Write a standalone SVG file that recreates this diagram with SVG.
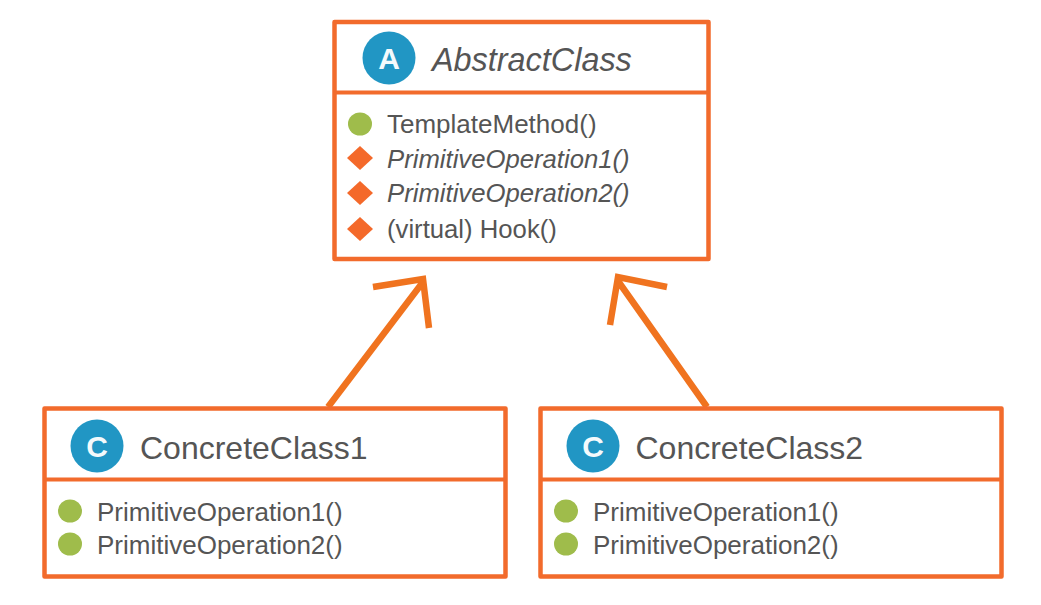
<svg xmlns="http://www.w3.org/2000/svg" width="1041" height="605" viewBox="0 0 1041 605">
<defs><style>
.box{fill:#fff;stroke:#f26b2c;stroke-width:4.5;stroke-linejoin:round}
.div{stroke:#f26b2c;stroke-width:4;fill:none}
.conn{stroke:#f0731f;stroke-width:6.500;fill:none;stroke-linejoin:miter}
.badge{fill:#2196c4}
.bl{font:bold 30px "Liberation Sans",Arial,sans-serif;fill:#f4fafc;text-anchor:middle}
.title{font:32px "Liberation Sans",Arial,sans-serif;fill:#555}
.item{font:26px "Liberation Sans",Arial,sans-serif;fill:#555}
.i{font-style:italic;font-size:25.7px}
.hook{font-size:25.7px}
.ti{font-size:32.400px}
.dot{fill:#9fbc4b}
.dia{fill:#f4692a}
</style></defs>
<rect width="1041" height="605" fill="#fff"/>
<g id="connectors">
<path class="conn" d="M328 407L423 282M373 287L423 279L429 328"/>
<path class="conn" d="M707 407L618 281M667 287L618 277L610 325"/>
</g>
<g id="abstract-class">
<rect class="box" x="334.500" y="22" width="374" height="237"/>
<path class="div" d="M334.500 92.500H708.500"/>
<circle class="badge" cx="389" cy="58" r="26.500"/>
<text class="bl" x="389" y="69">A</text>
<text class="title i ti" x="432" y="71">AbstractClass</text>
<ellipse class="dot" cx="360" cy="124" rx="12" ry="11.500"/>
<text class="item" x="387" y="133">TemplateMethod()</text>
<path class="dia" d="M360 146L373 158L360 170L347 158Z"/>
<text class="item i" x="387" y="167.500">PrimitiveOperation1()</text>
<path class="dia" d="M360 181L373 193L360 205L347 193Z"/>
<text class="item i" x="387" y="201.500">PrimitiveOperation2()</text>
<path class="dia" d="M360 217L373 229L360 241L347 229Z"/>
<text class="item hook" x="387" y="237.500">(virtual) Hook()</text>
</g>
<g id="concrete-class-1">
<rect class="box" x="44.500" y="408.500" width="461" height="168"/>
<path class="div" d="M44.500 479.500H505.500"/>
<circle class="badge" cx="97" cy="446" r="26.500"/>
<text class="bl" x="97" y="457">C</text>
<text class="title" x="140" y="459">ConcreteClass1</text>
<ellipse class="dot" cx="70" cy="511" rx="12" ry="11.500"/>
<text class="item" x="97" y="520.500">PrimitiveOperation1()</text>
<ellipse class="dot" cx="70" cy="544" rx="12" ry="11.500"/>
<text class="item" x="97" y="554">PrimitiveOperation2()</text>
</g>
<g id="concrete-class-2">
<rect class="box" x="540.500" y="408.500" width="461" height="168"/>
<path class="div" d="M540.500 479.500H1001.500"/>
<circle class="badge" cx="593" cy="446" r="26.500"/>
<text class="bl" x="593" y="457">C</text>
<text class="title" x="635.500" y="459">ConcreteClass2</text>
<ellipse class="dot" cx="566" cy="511" rx="12" ry="11.500"/>
<text class="item" x="593" y="520.500">PrimitiveOperation1()</text>
<ellipse class="dot" cx="566" cy="544" rx="12" ry="11.500"/>
<text class="item" x="593" y="554">PrimitiveOperation2()</text>
</g>
</svg>
